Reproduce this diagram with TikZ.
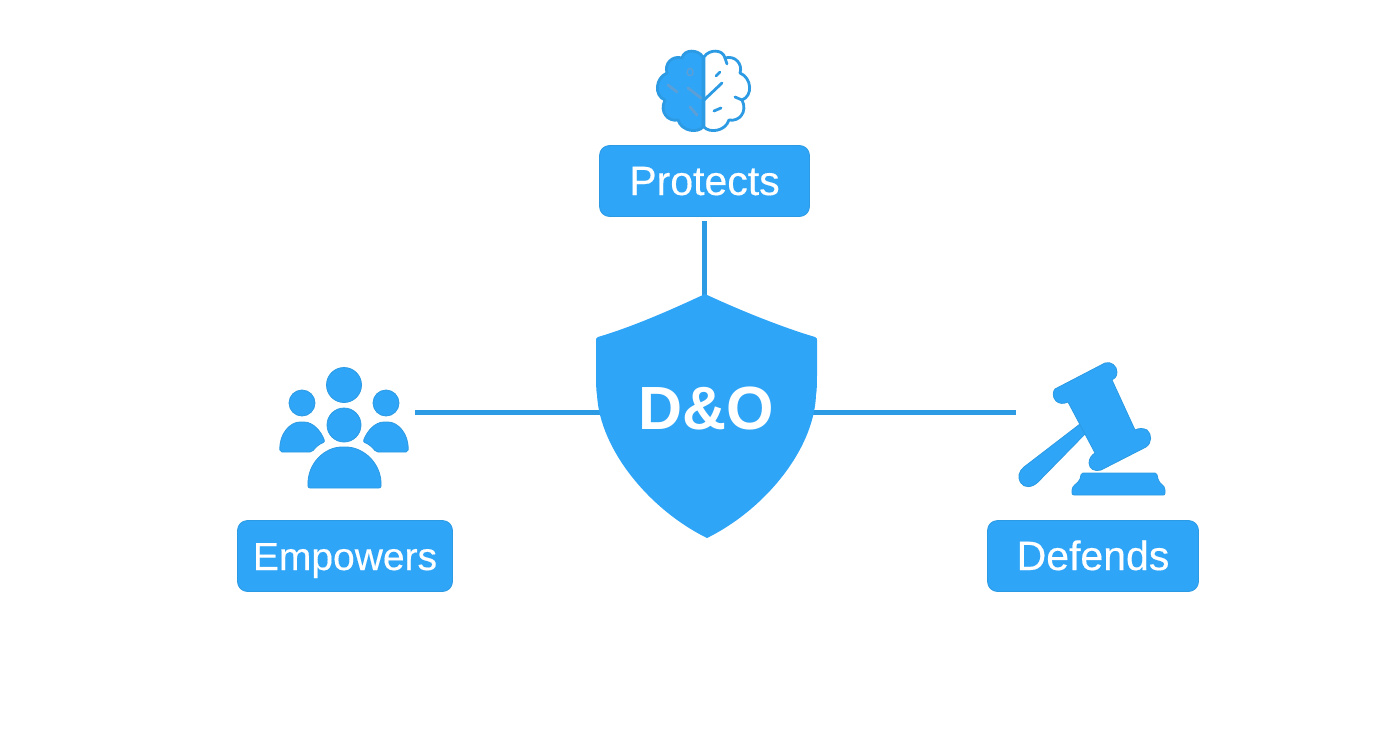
\documentclass[tikz,border=0pt]{standalone}
\usepackage{fontspec}
\setmainfont{Liberation Sans}
\newfontfamily\labelfont[FakeBold=0.35]{Liberation Sans}
\definecolor{dblue}{HTML}{2FA5F8}
\definecolor{lineblue}{HTML}{2C9BE3}
\definecolor{markblue}{HTML}{5B9FD6}
\tikzset{
  x=1pt,y=-1pt,
  labelbox/.style={fill=dblue,draw=lineblue,line width=0.8pt,rounded corners=10pt,text=white,font=\labelfont\fontsize{41}{44}\selectfont,inner sep=0pt,anchor=center,text height=30pt,text depth=2pt},
  link/.style={draw=lineblue,line width=5pt},
  icon/.style={fill=dblue,draw=lineblue,line width=0.8pt,line join=round},
  brainside/.style={draw=lineblue,line width=2.8pt,line join=round},
  brainmark/.style={draw=lineblue,line width=2.8pt,line cap=round,fill=none},
  brainmarkdim/.style={draw=markblue,line width=2.8pt,line cap=round,fill=none}
}
\begin{document}
\begin{tikzpicture}
\useasboundingbox (0,0) rectangle (1392,752);
% anchors
\coordinate (shieldtop) at (705,297);
\coordinate (shieldleft) at (602,412.5);
\coordinate (shieldright) at (811,412.5);
\coordinate (peopleend) at (415,412.5);
\coordinate (gavelend) at (1016,412.5);
% boxes
\node[labelbox,minimum width=210pt,minimum height=71pt] (protects) at (704.5,181) {Protects};
\node[labelbox,minimum width=215pt,minimum height=71pt,font=\labelfont\fontsize{39}{44}\selectfont] (empowers) at (345,556) {Empowers};
\node[labelbox,minimum width=211pt,minimum height=71pt] (defends) at (1093,556) {Defends};
\coordinate (linetop) at (704,221);
% connectors
\draw[link] (linetop) -- (linetop |- shieldtop);
\draw[link] (peopleend) -- (shieldleft);
\draw[link] (shieldright) -- (gavelend);
% shield
\fill[dblue] (705,294)
  .. controls (675,308) and (635,326) .. (598,337)
  .. controls (596,338) and (596,339) .. (596,340)
  -- (596,370)
  .. controls (596,380) and (596,390) .. (597,395)
  .. controls (600,450) and (650,510) .. (707,538)
  .. controls (764,510) and (814,450) .. (816,395)
  .. controls (817,390) and (817,380) .. (817,370)
  -- (817,340)
  .. controls (817,339) and (817,338) .. (815,337)
  .. controls (778,326) and (735,308) .. (705,294) -- cycle;
\node[text=white,font=\fontsize{61}{64}\selectfont\bfseries] (dando) at (706.5,408) {D\&O};
% people
\draw[icon] (344,385) circle (17.5);
\draw[icon] (302,403) circle (13);
\draw[icon] (386,403) circle (13);
\draw[icon] (344,425) circle (17);
\draw[icon,rounded corners=2pt] (280,452) .. controls (279,434) and (290,422) .. (302,422) .. controls (313,422) and (321,431) .. (325,442) .. controls (319,444) and (315,448) .. (312,452) -- cycle;
\draw[icon,rounded corners=2pt] (408,452) .. controls (409,434) and (398,422) .. (386,422) .. controls (375,422) and (367,431) .. (363,442) .. controls (369,444) and (373,448) .. (376,452) -- cycle;
\draw[icon,rounded corners=2pt] (308,488) .. controls (307,463) and (325,447) .. (344,447) .. controls (363,447) and (382,463) .. (381,488) -- cycle;
% gavel
\draw[icon] (1080,424) -- (1086,433) -- (1038,482) .. controls (1032,488) and (1024,488) .. (1021,483) .. controls (1017,477) and (1019,471) .. (1024,467) -- cycle;
\draw[icon] (1055,389) -- (1105,363) .. controls (1111,361) and (1117,366) .. (1117,372) .. controls (1117,377) and (1114,379) .. (1112,380)
  -- (1135,430) .. controls (1139,428) and (1143,428) .. (1147,430) .. controls (1152,434) and (1152,443) .. (1146,447)
  -- (1101,470) .. controls (1095,472) and (1089,469) .. (1089,463) .. controls (1089,458) and (1092,455) .. (1095,453)
  -- (1068,402) .. controls (1064,404) and (1059,404) .. (1056,401) .. controls (1052,397) and (1053,391) .. (1055,389) -- cycle;
\draw[icon] (1083,473) -- (1155,473) .. controls (1157,473) and (1157,475) .. (1158,479) .. controls (1159,484) and (1165,485) .. (1165,490) -- (1165,493) .. controls (1165,495) and (1164,495) .. (1163,495) -- (1074,495) .. controls (1072,495) and (1072,494) .. (1072,492) -- (1072,490) .. controls (1072,485) and (1078,484) .. (1080,479) .. controls (1081,475) and (1081,473) .. (1083,473) -- cycle;
% brain
\path[fill=dblue,brainside]
  (703,57) .. controls (698,49) and (684,49) .. (682,58)
  .. controls (672,55) and (664,64) .. (667,73)
  .. controls (655,78) and (654,96) .. (665,100)
  .. controls (659,112) and (668,122) .. (678,120)
  .. controls (682,132) and (698,133) .. (703,127) -- cycle;
\path[fill=white,brainside]
  (704,57) .. controls (709,49) and (723,49) .. (725,58)
  .. controls (735,55) and (743,64) .. (740,73)
  .. controls (752,78) and (753,96) .. (742,100)
  .. controls (748,112) and (739,122) .. (729,120)
  .. controls (725,132) and (709,133) .. (704,127) -- cycle;
\draw[brainmark] (704,100) -- (722,83);
\draw[brainmark] (716,76) -- (720,72);
\draw[brainmark] (714,111) -- (721,108);
\draw[brainmark] (735,97) -- (742,100);
\draw[brainmark] (725,58) -- (727,64);
\draw[brainmarkdim] (668,85) -- (677,92);
\draw[brainmarkdim] (688,88) -- (701,98);
\draw[brainmarkdim] (690,107) -- (697,115);
\draw[brainmarkdim,line width=1.4pt] (687,73) .. controls (687,67) and (693,67) .. (693,72) .. controls (694,76) and (688,77) .. (687,73);
\end{tikzpicture}
\end{document}
